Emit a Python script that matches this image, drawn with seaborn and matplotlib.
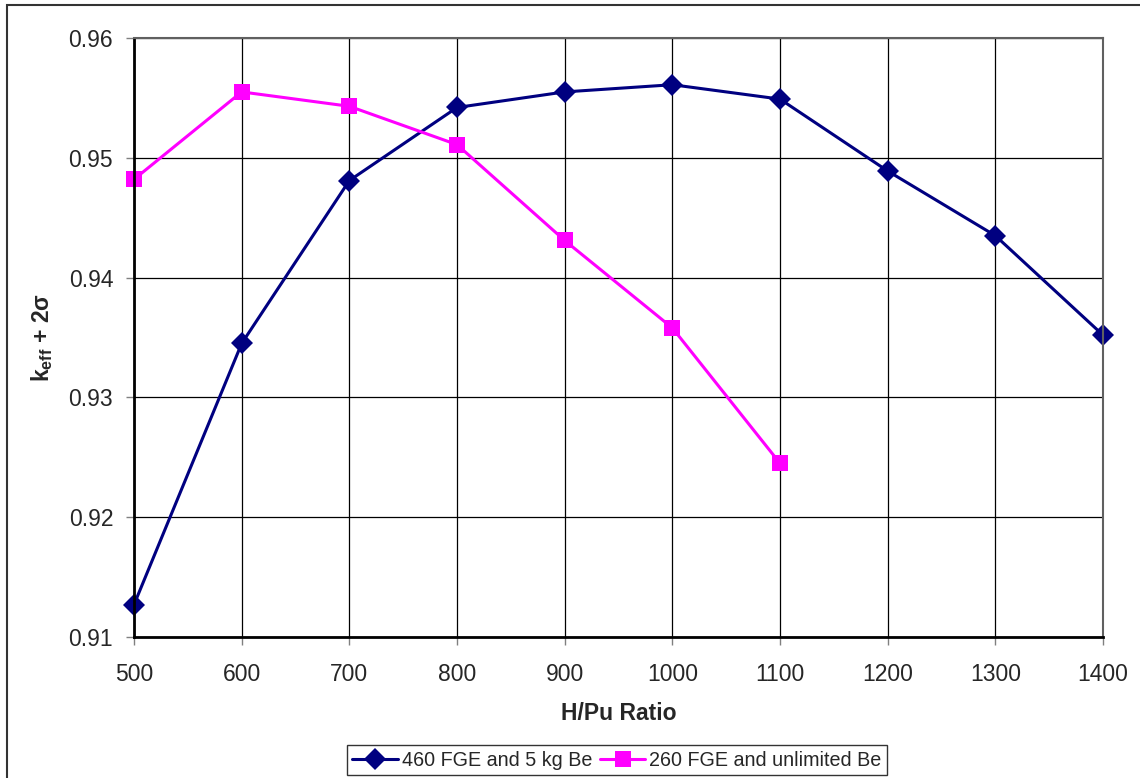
import pandas as pd
import matplotlib
matplotlib.use("Agg")
import matplotlib.pyplot as plt
import seaborn as sns
from matplotlib.patches import Rectangle

# data
hpu = [500, 600, 700, 800, 900, 1000, 1100, 1200, 1300, 1400]
keff_460 = [0.9127, 0.9345, 0.9481, 0.9542, 0.9555, 0.9561, 0.9549, 0.9489, 0.9435, 0.9352]
hpu_260 = [500, 600, 700, 800, 900, 1000, 1100]
keff_260 = [0.9482, 0.9555, 0.9543, 0.9511, 0.9431, 0.9358, 0.9245]
nomes = ["460 FGE and 5 kg Be", "260 FGE and unlimited Be"]
cores = ["#000080", "#FF00FF"]

df = pd.concat([
    pd.DataFrame({"hpu": hpu, "keff": keff_460, "serie": nomes[0]}),
    pd.DataFrame({"hpu": hpu_260, "keff": keff_260, "serie": nomes[1]}),
])

sns.set_style("white")
plt.rcParams["font.family"] = ["Liberation Sans", "DejaVu Sans"]
plt.rcParams["mathtext.fontset"] = "custom"
plt.rcParams["mathtext.rm"] = "Liberation Sans"
plt.rcParams["mathtext.bf"] = "Liberation Sans:bold"

fig = plt.figure(figsize=(11.4, 7.78), dpi=100)
ax = fig.add_axes([134 / 1140, 1 - 637 / 778, 969 / 1140, 599 / 778])

sns.lineplot(data=df, x="hpu", y="keff", hue="serie", style="serie",
             markers=["D", "s"], dashes=False, palette=cores, linewidth=2.2,
             markersize=11, markeredgewidth=0, ax=ax)
for ln in ax.lines:
    ln.set_clip_on(False)

ax.set_xlim(500, 1400)
ax.set_ylim(0.91, 0.96)
ax.set_xticks(range(500, 1401, 100))
ax.set_yticks([0.91, 0.92, 0.93, 0.94, 0.95, 0.96])
ax.set_yticklabels(["0.91", "0.92", "0.93", "0.94", "0.95", "0.96"])
ax.grid(True, color="black", linewidth=0.9)
ax.set_axisbelow(True)
ax.tick_params(labelsize=16.5, length=6, width=1, color="#808080", direction="out",
               bottom=True, left=True)
ax.tick_params(axis="y", pad=9)
ax.tick_params(axis="x", pad=13)
for s in ["left", "bottom"]:
    ax.spines[s].set_color("black")
    ax.spines[s].set_linewidth(2)
for s in ["right", "top"]:
    ax.spines[s].set_color("#606060")
    ax.spines[s].set_linewidth(1.5)

ax.set_xlabel("H/Pu Ratio", fontsize=16.5, fontweight="bold", labelpad=11)
ax.set_ylabel(r"k$\mathbf{_{eff}}$ + 2σ", fontsize=16.5, fontweight="bold", labelpad=10)

leg = ax.legend(loc="center", bbox_to_anchor=(617 / 1140, 1 - 760 / 778),
                bbox_transform=fig.transFigure, ncol=2, fontsize=14.2,
                frameon=True, fancybox=False, handlelength=2.3,
                columnspacing=0.4, handletextpad=0.2, borderpad=0.3,
                borderaxespad=0)
leg.get_frame().set_edgecolor("black")
leg.get_frame().set_linewidth(1)

# moldura da figura
fig.patches.append(Rectangle((7 / 1140, -0.05), 1.1, 1 - 5 / 778 + 0.05,
                             transform=fig.transFigure, fill=False,
                             edgecolor="#333333", linewidth=1.5))

fig.savefig("out.png", dpi=100)
